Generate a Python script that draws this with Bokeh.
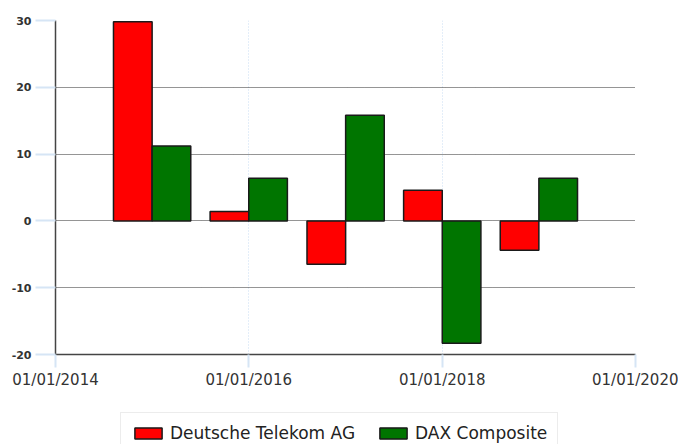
import pandas as pd
from datetime import timedelta
from bokeh.plotting import figure
from bokeh.layouts import column
from bokeh.models import (ColumnDataSource, Range1d, FixedTicker, DatetimeTickFormatter,
                          PrintfTickFormatter, Legend, LegendItem)
from bokeh.embed import file_html
from bokeh.resources import INLINE

# ---- data ----
periods = ["2015-01-01", "2016-01-01", "2017-01-01", "2018-01-01", "2019-01-01"]
telekom = [29.8, 1.4, -6.5, 4.6, -4.4]
dax = [11.2, 6.4, 15.8, -18.3, 6.4]
series_names = ["Deutsche Telekom AG", "DAX Composite"]
x_tick_dates = ["2014-01-01", "2016-01-01", "2018-01-01", "2020-01-01"]
y_ticks = [-20, -10, 0, 10, 20, 30]

# ---- style ----
RED = "#ff0000"
GREEN = "#007500"
FONT = "DejaVu Sans"
bar_days = 146
BAR_STYLE = dict(line_color="#1a1a1a", line_width=1.5)

dates = pd.to_datetime(periods)
w = timedelta(days=bar_days)

src_a = ColumnDataSource(dict(left=[d - w for d in dates], right=list(dates),
                              top=[max(v, 0) for v in telekom],
                              bottom=[min(v, 0) for v in telekom]))
src_b = ColumnDataSource(dict(left=list(dates), right=[d + w for d in dates],
                              top=[max(v, 0) for v in dax],
                              bottom=[min(v, 0) for v in dax]))

xt = pd.to_datetime(x_tick_dates)
p = figure(width=678, height=398, output_backend="svg", toolbar_location=None,
           x_axis_type="datetime",
           x_range=Range1d(xt[0], xt[-1]), y_range=Range1d(y_ticks[0], y_ticks[-1]),
           min_border_left=55, min_border_right=43, min_border_top=20, min_border_bottom=44)
p.outline_line_color = None
p.background_fill_color = "white"
p.border_fill_color = "white"

p.quad(left="left", right="right", top="top", bottom="bottom", source=src_a,
       fill_color=RED, **BAR_STYLE)
p.quad(left="left", right="right", top="top", bottom="bottom", source=src_b,
       fill_color=GREEN, **BAR_STYLE)

# axes
p.xaxis.ticker = FixedTicker(ticks=[t.value / 1e6 for t in xt])
fmt = "%m/%d/%Y"
p.xaxis.formatter = DatetimeTickFormatter(years=fmt, months=fmt, days=fmt, hours=fmt,
                                          minutes=fmt, seconds=fmt, milliseconds=fmt,
                                          microseconds=fmt, hourmin=fmt, minsec=fmt)
p.yaxis.ticker = FixedTicker(ticks=y_ticks)
p.yaxis.formatter = PrintfTickFormatter(format="%d")

for ax in (p.xaxis, p.yaxis):
    ax.axis_line_color = "#444444"
    ax.axis_line_width = 1.5
    ax.major_tick_line_color = "#d6e5f5"
    ax.major_tick_line_width = 2
    ax.minor_tick_line_color = None
    ax.major_tick_in = 0
    ax.major_label_text_font = FONT
    ax.major_label_text_color = "#333333"

p.xaxis.major_tick_out = 13
p.xaxis.major_label_standoff = 3
p.xaxis.major_label_text_font_size = "15px"
p.yaxis.major_tick_out = 20
p.yaxis.major_label_standoff = 4
p.yaxis.major_label_text_font_size = "11px"
p.yaxis.major_label_text_font_style = "bold"

p.ygrid.grid_line_color = "#2a2a2a"
p.ygrid.grid_line_dash = "1 1"
p.ygrid.grid_line_width = 1
p.xgrid.grid_line_color = "#c9dcf2"
p.xgrid.grid_line_dash = "1 2"
p.xgrid.grid_line_width = 1

# ---- legend strip below the chart (same series, drawn off-view) ----
lg = figure(width=678, height=46, output_backend="svg", toolbar_location=None,
            x_range=Range1d(0, 1), y_range=Range1d(0, 1),
            x_axis_location=None, y_axis_location=None,
            min_border_left=0, min_border_right=0, min_border_top=0, min_border_bottom=0)
lg.outline_line_color = None
lg.xgrid.visible = False
lg.ygrid.visible = False
la = lg.quad(left="left", right="right", top="top", bottom="bottom", source=src_a,
             fill_color=RED, **BAR_STYLE)
lb = lg.quad(left="left", right="right", top="top", bottom="bottom", source=src_b,
             fill_color=GREEN, **BAR_STYLE)

legend = Legend(items=[LegendItem(label=series_names[0], renderers=[la]),
                       LegendItem(label=series_names[1], renderers=[lb])],
                orientation="horizontal", location=(65, -10))
legend.border_line_color = "#d9d9d9"
legend.border_line_width = 1.5
legend.padding = 10
legend.margin = 0
legend.spacing = 21
legend.glyph_width = 34
legend.glyph_height = 14
legend.label_height = 20
legend.label_standoff = 5
legend.label_text_font = FONT
legend.label_text_font_size = "17px"
legend.label_text_color = "#222222"
legend.background_fill_color = "white"
lg.add_layout(legend)

layout = column(p, lg, spacing=0)
open("out.html", "w").write(file_html(layout, INLINE))
